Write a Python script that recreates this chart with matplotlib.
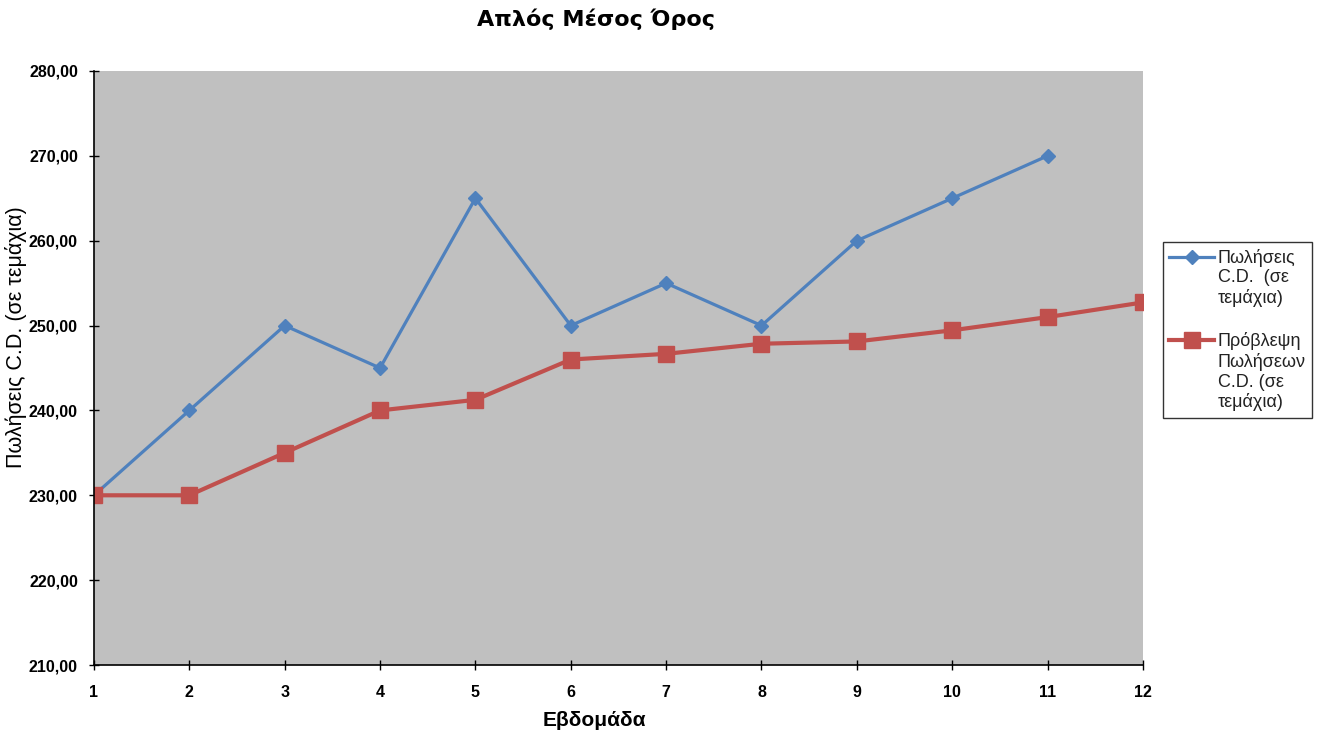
import numpy as np
import matplotlib
matplotlib.use("Agg")
import matplotlib.pyplot as plt
from matplotlib.ticker import FuncFormatter
from matplotlib.legend_handler import HandlerLine2D

# Weekly CD sales and the simple-average forecast
weeks = list(range(1, 13))
sales = [230, 240, 250, 245, 265, 250, 255, 250, 260, 265, 270]
forecast = [230.00, 230.00, 235.00, 240.00, 241.25, 246.00,
            246.67, 247.86, 248.13, 249.44, 251.00, 252.73]

sales_label = "Πωλήσεις\nC.D.  (σε\nτεμάχια)"
forecast_label = "Πρόβλεψη\nΠωλήσεων\nC.D. (σε\nτεμάχια)"


class TopAlignedLine(HandlerLine2D):
    """Legend handle drawn next to the first line of a multi-line label."""

    def __init__(self, lift, **kw):
        super().__init__(**kw)
        self.lift = lift

    def create_artists(self, legend, orig_handle, xdescent, ydescent,
                       width, height, fontsize, trans):
        return super().create_artists(legend, orig_handle, xdescent,
                                      ydescent - 2 * self.lift, width,
                                      height, fontsize, trans)


plt.rcParams["font.family"] = ["Liberation Sans", "DejaVu Sans"]

fig = plt.figure(figsize=(13.27, 7.38), dpi=100)
ax = fig.add_axes([0.0708, 0.0989, 0.7905, 0.8049])
ax.set_facecolor("#C0C0C0")

l1, = ax.plot(weeks[:len(sales)], sales, color="#4F81BD", lw=2.3,
              marker="D", markersize=7, label=sales_label)
l2, = ax.plot(weeks, forecast, color="#C0504D", lw=3.0,
              marker="s", markersize=11, label=forecast_label)

ax.set_xlim(1, 12)
ax.set_ylim(210, 280)
ax.set_xticks(weeks)
ax.set_yticks(np.arange(210, 281, 10))
ax.yaxis.set_major_formatter(FuncFormatter(lambda v, p: f"{v:.2f}".replace(".", ",")))
ax.tick_params(direction="inout", length=7, width=1, labelsize=11.5)
ax.tick_params(axis="x", pad=11)
ax.tick_params(axis="y", pad=8)
for lab in ax.get_xticklabels() + ax.get_yticklabels():
    lab.set_fontweight("bold")

for side in ("top", "right"):
    ax.spines[side].set_visible(False)
for side in ("left", "bottom"):
    ax.spines[side].set_linewidth(1.2)

ax.set_xlabel("Εβδομάδα", fontsize=15, fontweight="bold")
ax.xaxis.set_label_coords(0.4766, -0.078)
ax.set_ylabel("Πωλήσεις C.D. (σε τεμάχια)", fontsize=15.5)
ax.yaxis.set_label_coords(-0.064, 0.552)
fig.suptitle("Απλός Μέσος Όρος", x=0.449, y=0.988, fontsize=16,
             fontweight="bold", family="DejaVu Sans")

leg = ax.legend(loc="center left", bbox_to_anchor=(1.019, 0.564),
                borderaxespad=0, frameon=True, fancybox=False, fontsize=13,
                handlelength=2.5, handletextpad=0.2, labelspacing=1.4,
                borderpad=0.35, labelcolor="#222222",
                handler_map={l1: TopAlignedLine(15), l2: TopAlignedLine(23)})
leg.get_frame().set_edgecolor("black")
leg.get_frame().set_linewidth(1.0)

fig.savefig("out.png", dpi=100)
